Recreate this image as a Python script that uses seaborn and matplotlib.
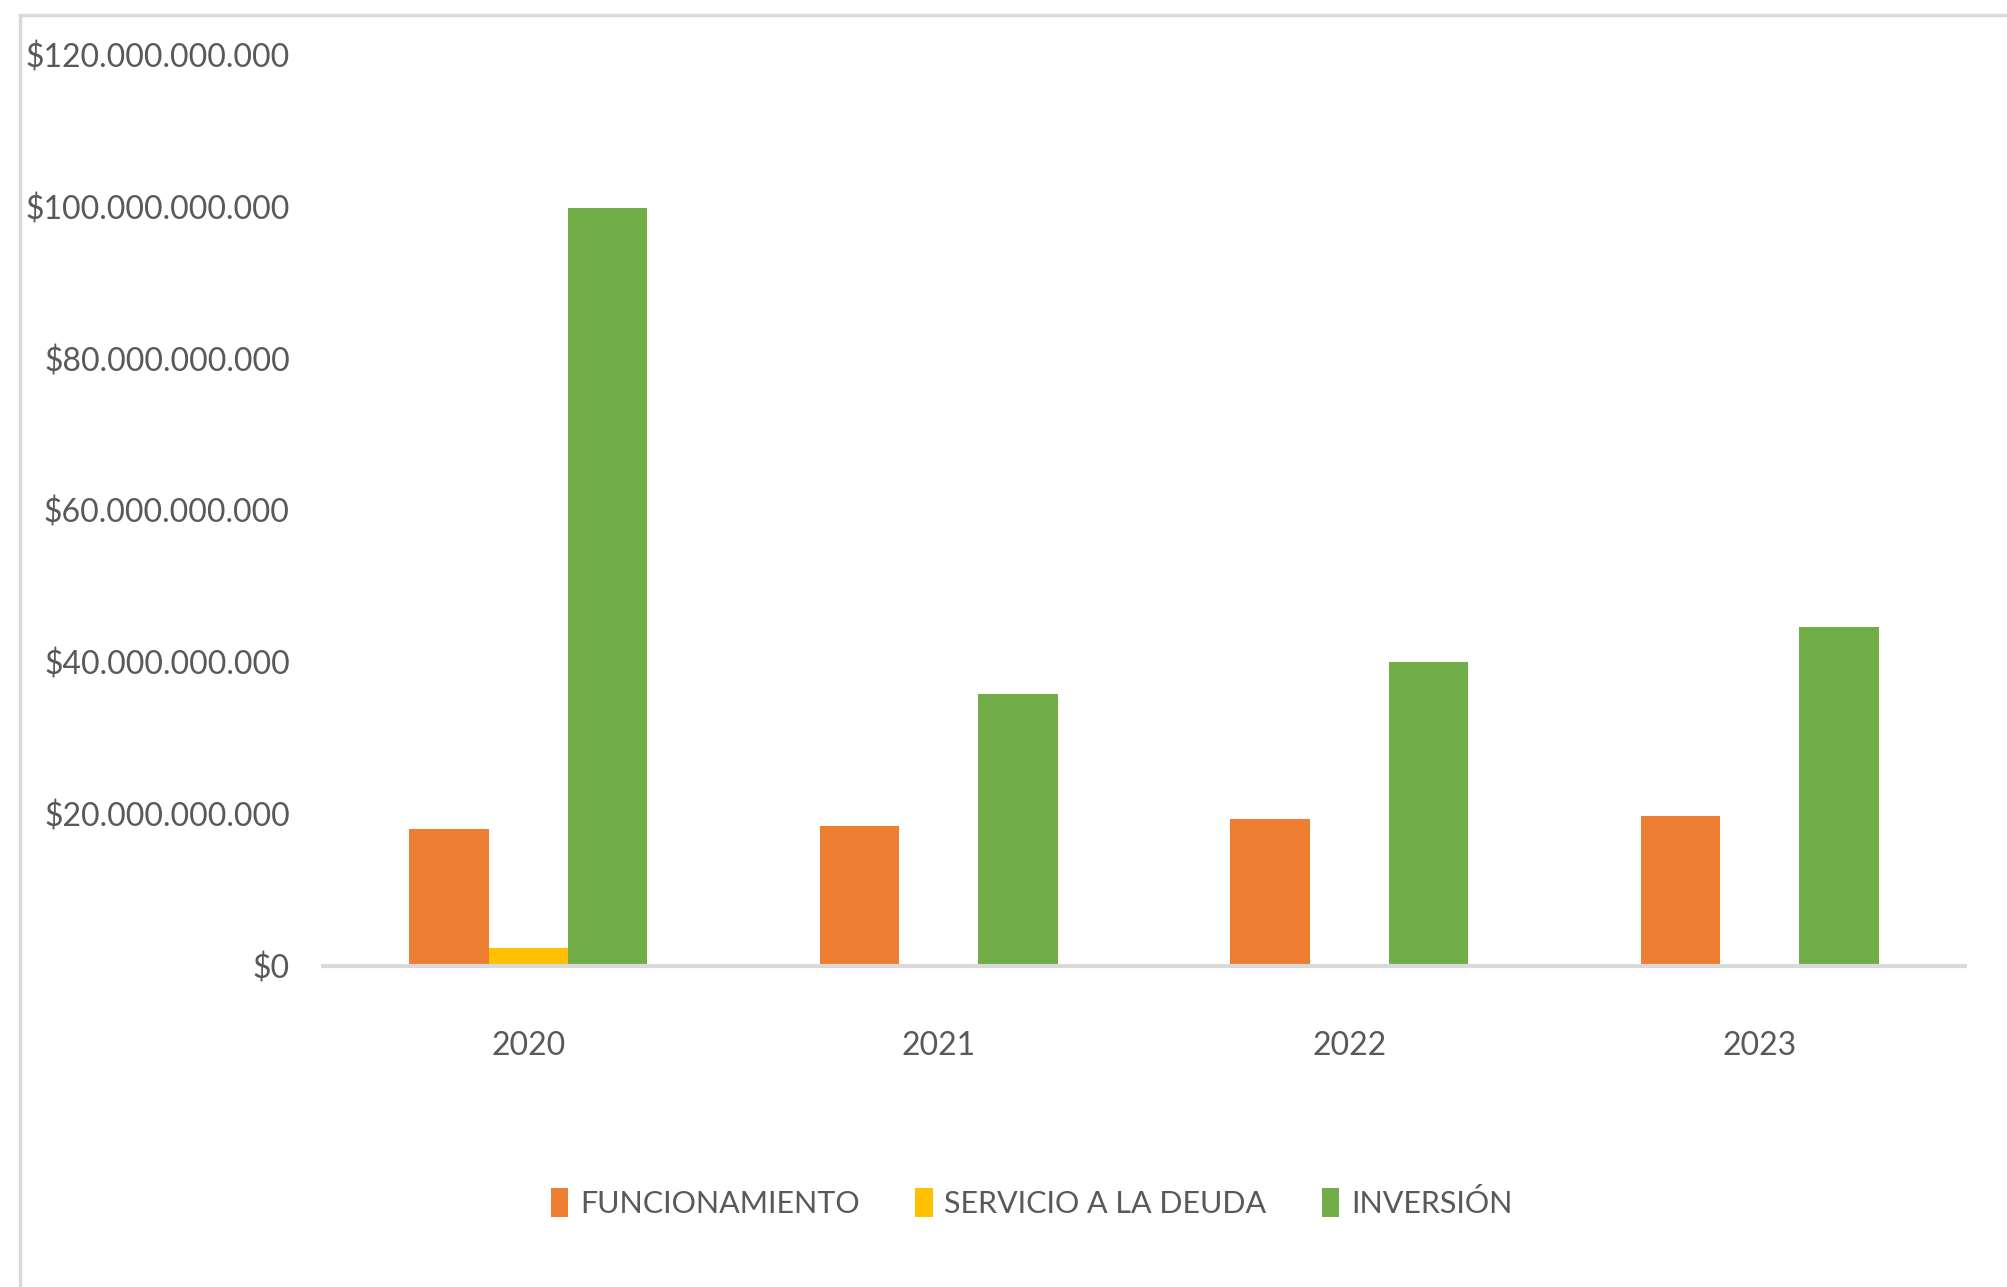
import pandas as pd
import seaborn as sns
import matplotlib
matplotlib.use("Agg")
import matplotlib.pyplot as plt
from matplotlib.ticker import FuncFormatter
from matplotlib.patches import Rectangle

# datos del presupuesto por rubro (pesos)
anios = ["2020", "2021", "2022", "2023"]
rubros = ["FUNCIONAMIENTO", "SERVICIO A LA DEUDA", "INVERSIÓN"]
funcionamiento = [18.0e9, 18.4e9, 19.4e9, 19.8e9]
servicio_deuda = [2.4e9, 0, 0, 0]
inversion = [99.8e9, 35.8e9, 40.0e9, 44.6e9]
colores = ["#ED7D31", "#FFC000", "#70AD47"]

df = pd.DataFrame({
    "anio": anios * 3,
    "rubro": [rubros[0]] * 4 + [rubros[1]] * 4 + [rubros[2]] * 4,
    "valor": funcionamiento + servicio_deuda + inversion,
})

sns.set_style("white")
plt.rcParams["font.family"] = ["Lato", "DejaVu Sans"]
gris = "#595959"
tam = 23

fig = plt.figure(figsize=(20.07, 12.87), dpi=100)
ax = fig.add_axes([0.161, 0.2494, 0.818, 0.7079])

sns.barplot(data=df, x="anio", y="valor", hue="rubro", palette=colores,
            width=0.58, saturation=1, linewidth=0, ax=ax)

ax.set_ylim(0, 120e9)
ax.set_xlim(-0.5, 3.5)
ax.set_yticks([0, 20e9, 40e9, 60e9, 80e9, 100e9, 120e9])
ax.yaxis.set_major_formatter(FuncFormatter(lambda v, p: "${:,.0f}".format(v).replace(",", ".")))
ax.set_xlabel("")
ax.set_ylabel("")
ax.grid(False)

for s in ["top", "right", "left"]:
    ax.spines[s].set_visible(False)
ax.spines["bottom"].set_color("#D9D9D9")
ax.spines["bottom"].set_linewidth(3)

ax.tick_params(axis="x", length=0, pad=47, labelsize=tam, labelcolor=gris)
ax.tick_params(axis="y", length=0, pad=24, labelsize=tam, labelcolor=gris)

ax.legend(loc="center", bbox_to_anchor=(0.514, 1 - 1203 / 1287), bbox_transform=fig.transFigure,
          ncol=3, frameon=False, fontsize=22, labelcolor=gris,
          handlelength=0.57, handleheight=1.05, handletextpad=0.37, columnspacing=1.83)

# marco del gráfico
fig.add_artist(Rectangle((20 / 2007, -0.1), 1.2, 1.1 - 15 / 1287, transform=fig.transFigure,
                         fill=False, edgecolor="#D9D9D9", linewidth=2.5))

fig.savefig("out.png", dpi=100)
